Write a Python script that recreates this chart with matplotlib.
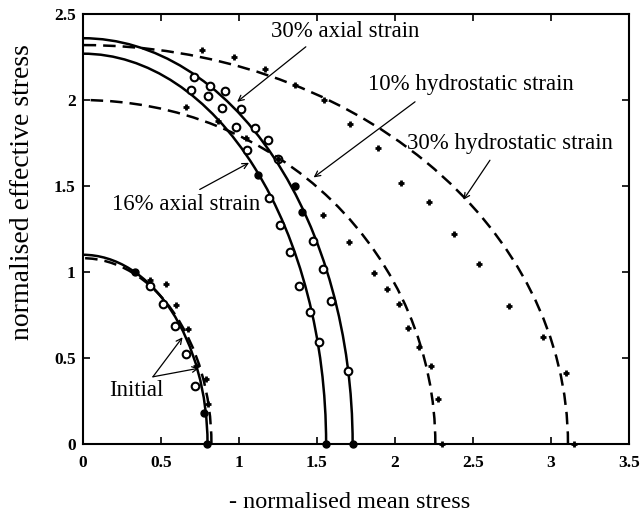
import matplotlib
matplotlib.use("Agg")
import matplotlib.pyplot as plt
from matplotlib.patches import Arc

# ---- data ----
# yield surfaces (quarter ellipses): semi-axis on mean stress, semi-axis on effective stress
solid_a = [0.80, 1.56, 1.73]
solid_b = [1.10, 2.27, 2.36]
dashed_a = [0.825, 2.26, 3.11]
dashed_b = [1.08, 2.00, 2.32]

# 30% axial strain test points (open circles)
ax30_x = [0.714, 0.818, 0.915, 1.013, 1.103, 1.188, 1.25, 1.476, 1.54, 1.594, 1.70]
ax30_y = [2.135, 2.08, 2.05, 1.95, 1.84, 1.77, 1.66, 1.18, 1.015, 0.833, 0.426]
# 16% axial strain test points (open circles)
ax16_x = [0.692, 0.803, 0.895, 0.985, 1.053, 1.194, 1.267, 1.331, 1.387, 1.455, 1.515]
ax16_y = [2.06, 2.025, 1.955, 1.845, 1.71, 1.43, 1.273, 1.118, 0.919, 0.769, 0.595]
# initial test points (open circles)
ini_o_x = [0.43, 0.515, 0.59, 0.66, 0.72]
ini_o_y = [0.917, 0.816, 0.684, 0.522, 0.335]
# filled circles
fill_x = [0.337, 0.776, 0.797, 1.124, 1.562, 1.36, 1.408, 1.733]
fill_y = [1.0, 0.18, 0.0, 1.564, 0.0, 1.50, 1.35, 0.0]
# initial test points (plus)
ini_p_x = [0.432, 0.533, 0.595, 0.675, 0.727, 0.79, 0.80]
ini_p_y = [0.956, 0.93, 0.805, 0.67, 0.45, 0.38, 0.232]
# 10% hydrostatic strain points (plus)
hy10_x = [0.665, 0.868, 1.045, 1.25, 1.54, 1.707, 1.865, 1.95, 2.03, 2.085, 2.156, 2.235, 2.278, 2.30]
hy10_y = [1.96, 1.88, 1.78, 1.66, 1.33, 1.176, 0.996, 0.899, 0.814, 0.676, 0.566, 0.453, 0.26, 0.0]
# 30% hydrostatic strain points (plus)
hy30_x = [0.767, 0.97, 1.167, 1.36, 1.547, 1.716, 1.89, 2.04, 2.22, 2.378, 2.538, 2.73, 2.95, 3.10, 3.15]
hy30_y = [2.29, 2.25, 2.18, 2.09, 2.0, 1.86, 1.72, 1.52, 1.405, 1.22, 1.045, 0.80, 0.62, 0.41, 0.0]

xticks = [0, 0.5, 1, 1.5, 2, 2.5, 3, 3.5]
xticklabels = ["0", "0.5", "1", "1.5", "2", "2.5", "3", "3.5"]
yticks = [0, 0.5, 1, 1.5, 2, 2.5]
yticklabels = ["0", "0.5", "1", "1.5", "2", "2.5"]

plt.rcParams['font.family'] = ['Liberation Serif', 'DejaVu Serif']

fig = plt.figure(figsize=(6.41, 5.24), dpi=100)
ax = fig.add_axes([0.129, 0.153, 0.852, 0.820])

for a, b in zip(solid_a, solid_b):
    ax.add_patch(Arc((0, 0), 2 * a, 2 * b, theta1=0, theta2=90,
                     color='black', lw=1.8, clip_on=True))
for a, b in zip(dashed_a, dashed_b):
    ax.add_patch(Arc((0, 0), 2 * a, 2 * b, theta1=0, theta2=90,
                     color='black', lw=1.8, linestyle=(0, (5, 2.8)), clip_on=True))

okw = dict(marker='o', ms=5.5, mfc='white', mec='black', mew=1.5, ls='none', zorder=3)
pkw = dict(marker='+', ms=5, mec='black', mew=2.0, ls='none', zorder=3)
ax.plot(ax30_x, ax30_y, **okw)
ax.plot(ax16_x, ax16_y, **okw)
ax.plot(ini_o_x, ini_o_y, **okw)
ax.plot(fill_x, fill_y, marker='o', ms=5, mfc='black', mec='black', ls='none', zorder=3, clip_on=False)
ax.plot(ini_p_x, ini_p_y, **pkw)
ax.plot(hy10_x, hy10_y, clip_on=False, **pkw)
ax.plot(hy30_x, hy30_y, clip_on=False, **pkw)

akw = dict(arrowstyle='->', color='black', lw=0.9, shrinkA=0, shrinkB=0)
fs = 16.5

ax.text(1.21, 2.40, "30% axial strain", fontsize=fs, ha='left', va='center')
ax.annotate("", xy=(0.99, 1.99), xytext=(1.43, 2.31), arrowprops=akw)

ax.text(1.83, 2.09, "10% hydrostatic strain", fontsize=fs, ha='left', va='center')
ax.annotate("", xy=(1.48, 1.55), xytext=(2.13, 1.99), arrowprops=akw)

ax.text(2.08, 1.75, "30% hydrostatic strain", fontsize=fs, ha='left', va='center')
ax.annotate("", xy=(2.44, 1.42), xytext=(2.61, 1.65), arrowprops=akw)

ax.text(0.19, 1.39, "16% axial strain", fontsize=fs, ha='left', va='center')
ax.annotate("", xy=(1.066, 1.635), xytext=(0.75, 1.48), arrowprops=akw)

ax.text(0.17, 0.31, "Initial", fontsize=fs, ha='left', va='center')
ax.annotate("", xy=(0.64, 0.62), xytext=(0.45, 0.39), arrowprops=akw)
ax.annotate("", xy=(0.745, 0.44), xytext=(0.45, 0.39), arrowprops=akw)

ax.set_xlim(0, 3.5)
ax.set_ylim(0, 2.5)
ax.set_xticks(xticks)
ax.set_xticklabels(xticklabels, fontweight='bold', fontsize=12.5)
ax.set_yticks(yticks)
ax.set_yticklabels(yticklabels, fontweight='bold', fontsize=12.5)
ax.tick_params(direction='in', top=True, right=True, length=5, width=1.2)
ax.tick_params(axis='x', pad=8)
ax.tick_params(axis='y', pad=5)
for s in ax.spines.values():
    s.set_linewidth(1.5)

ax.set_xlabel("- normalised mean stress", fontsize=17.5)
ax.xaxis.set_label_coords(0.489, -0.137)
ax.xaxis.label.set_va('center')
ax.set_ylabel("normalised effective stress", fontsize=20)
ax.yaxis.set_label_coords(-0.11, 0.585)
ax.yaxis.label.set_va('center')

fig.savefig("out.png", dpi=100)
